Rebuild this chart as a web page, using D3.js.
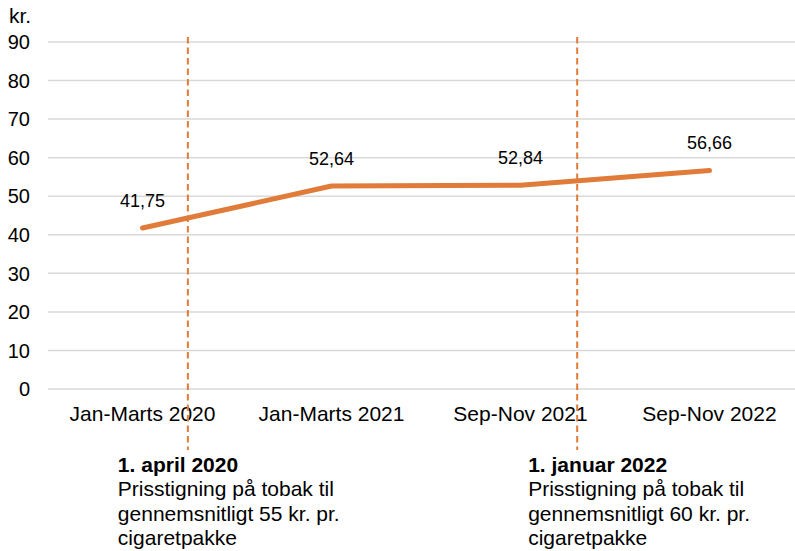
<!DOCTYPE html>
<html>
<head>
<meta charset="utf-8">
<script src="https://cdn.jsdelivr.net/npm/d3@7"></script>
<style>
	body { margin: 0; background: #fff; }
	text { font-family: "Liberation Sans", Arial, sans-serif; fill: #000; }
</style>
</head>
<body>
<svg id="chart"></svg>
<script>
var categories = ["Jan-Marts 2020", "Jan-Marts 2021", "Sep-Nov 2021", "Sep-Nov 2022"];
var prices = [41.75, 52.64, 52.84, 56.66];
var yTicks = [0, 10, 20, 30, 40, 50, 60, 70, 80, 90];
var eventTitles = ["1. april 2020", "1. januar 2022"];
var eventLines = [
	["Prisstigning på tobak til", "gennemsnitligt 55 kr. pr.", "cigaretpakke"],
	["Prisstigning på tobak til", "gennemsnitligt 60 kr. pr.", "cigaretpakke"]
];
// where the price rise falls, in category steps from the first point
var eventAt = [0.24, 2.3];

var width = 795, height = 551;
var orange = "#e07b39";
var svg = d3.select("#chart").attr("width", width).attr("height", height);

var plotLeft = 48, plotRight = 804, plotTop = 42, plotBottom = 389;

var x = d3.scaleBand().domain(categories).range([plotLeft, plotRight]);
var y = d3.scaleLinear().domain([0, 90]).range([plotBottom, plotTop]);

function xAt(i) {
	return x(categories[0]) + x.bandwidth() / 2 + i * x.step();
}

// grid
svg.append("g").selectAll("line")
	.data(yTicks)
	.enter().append("line")
	.attr("x1", plotLeft).attr("x2", plotRight)
	.attr("y1", function(d) { return y(d); })
	.attr("y2", function(d) { return y(d); })
	.style("stroke", "#d9d9d9")
	.style("stroke-width", 1.5);

// y labels
svg.append("g").selectAll("text")
	.data(yTicks)
	.enter().append("text")
	.attr("x", 30).attr("y", function(d) { return y(d); })
	.attr("dy", "0.36em")
	.attr("text-anchor", "end")
	.style("font-size", "20px")
	.text(function(d) { return d; });

svg.append("text").attr("x", 9).attr("y", 23)
	.style("font-size", "21px").text("kr.");

// x labels
svg.append("g").selectAll("text")
	.data(categories)
	.enter().append("text")
	.attr("x", function(d) { return x(d) + x.bandwidth() / 2; })
	.attr("y", 413).attr("dy", "0.36em")
	.attr("text-anchor", "middle")
	.style("font-size", "21px")
	.text(function(d) { return d; });

// event markers + notes
var noteOffset = [-70, -49];
eventAt.forEach(function(at, k) {
	var ex = xAt(at);
	svg.append("line")
		.attr("x1", ex).attr("x2", ex)
		.attr("y1", 37).attr("y2", 450)
		.style("stroke", orange)
		.style("stroke-width", 2)
		.style("stroke-dasharray", "6.5,4");

	var tx = ex + noteOffset[k];
	var t = svg.append("text").attr("x", tx).attr("y", 472)
		.style("font-size", "21px");
	t.append("tspan").attr("x", tx).style("font-weight", "bold").text(eventTitles[k]);
	eventLines[k].forEach(function(l) {
		t.append("tspan").attr("x", tx).attr("dy", 24.3).text(l);
	});
});

// line
var line = d3.line()
	.x(function(d, i) { return x(categories[i]) + x.bandwidth() / 2; })
	.y(function(d) { return y(d); });

svg.append("path")
	.datum(prices)
	.attr("d", line)
	.style("fill", "none")
	.style("stroke", orange)
	.style("stroke-width", 5)
	.style("stroke-linecap", "round")
	.style("stroke-linejoin", "round");

// value labels
svg.append("g").selectAll("text")
	.data(prices)
	.enter().append("text")
	.attr("x", function(d, i) { return x(categories[i]) + x.bandwidth() / 2; })
	.attr("y", function(d) { return y(d) - 28; })
	.attr("dy", "0.36em")
	.attr("text-anchor", "middle")
	.style("font-size", "18px")
	.text(function(d) { return d.toFixed(2).replace(".", ","); });
</script>
</body>
</html>
